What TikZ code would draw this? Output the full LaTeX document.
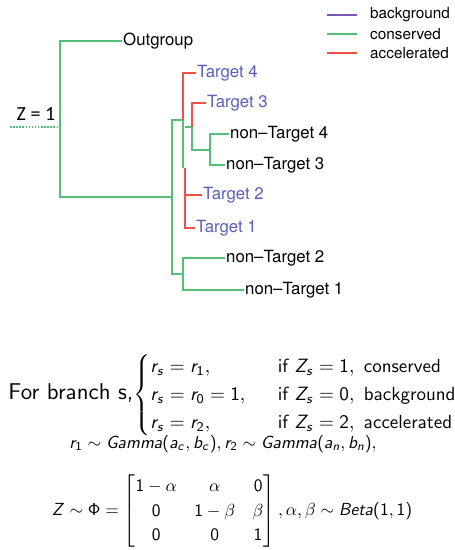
\documentclass[tikz,border=0pt]{standalone}
\usepackage{amsmath}
\usepackage{amssymb}
\usepackage[no-math]{fontspec}
\newfontfamily\helv{TeX Gyre Heros}
\newfontfamily\calib{Carlito}
\usepackage{tikz}

\definecolor{bgcol}{RGB}{125,85,185}
\definecolor{conscol}{RGB}{85,190,120}
\definecolor{acccol}{RGB}{240,80,70}
\definecolor{tgtcol}{RGB}{90,95,185}

% sans serif math letters, as on the slides
\SetSymbolFont{operators}{normal}{OT1}{cmss}{m}{n}
\DeclareSymbolFont{sfletters}{OT1}{cmss}{m}{sl}
\newcommand{\sfletter}[1]{\DeclareMathSymbol{#1}{\mathalpha}{sfletters}{`#1}}
\sfletter{r}\sfletter{s}\sfletter{Z}\sfletter{G}\sfletter{a}\sfletter{m}
\sfletter{b}\sfletter{c}\sfletter{n}\sfletter{B}\sfletter{e}\sfletter{t}
\font\sften=cmss10 at 9.9pt
\font\sfbig=cmss10 at 11.9pt

\begin{document}
\begin{tikzpicture}[x=1pt, y=-1pt,
		branch/.style={line width=1.3pt},
		cons/.style={branch, conscol},
		acc/.style={branch, acccol},
		leaf/.style={font=\helv\fontsize{16.8}{20}\selectfont, anchor=west, inner sep=1pt, text height=12pt, text depth=3.5pt},
		tgt/.style={leaf, text=tgtcol},
		legtxt/.style={font=\helv\fontsize{15.3}{18}\selectfont, anchor=west, inner sep=0pt},
		eqn/.style={font=\sffamily\fontsize{10}{12.15}\selectfont, inner sep=0pt, scale=1.92, transform shape}]
	\useasboundingbox (0,0) rectangle (455,550);
	
	% legend
	\foreach \y/\c/\t in {15/bgcol/background, 34/conscol/conserved, 53/acccol/accelerated} {
		\node[legtxt] (leg-\t) at (370,\y) {\t};
		\draw[\c, branch] ([xshift=-43pt]leg-\t.west) -- ([xshift=-13pt]leg-\t.west);
	}
	
	% leaves
	\node[leaf] (out) at (122,41) {Outgroup};
	\node[tgt] (t4) at (196,73) {Target 4};
	\node[tgt] (t3) at (206,103) {Target 3};
	\node[leaf] (nt4) at (229,134) {non–Target 4};
	\node[leaf] (nt3) at (225,165) {non–Target 3};
	\node[tgt] (t2) at (202,195) {Target 2};
	\node[tgt] (t1) at (195,228) {Target 1};
	\node[leaf] (nt2) at (225,258) {non–Target 2};
	\node[leaf] (nt1) at (244,290) {non–Target 1};
	
	% inner nodes
	\coordinate (z) at (60,127);
	\coordinate (zin) at (10,127);
	\coordinate (a) at (172,197);
	\coordinate (b) at (183,120);
	\coordinate (c) at (183,274);
	\coordinate (d) at (192,127);
	\coordinate (e) at (210,150);
	\coordinate (f) at (185,168);
	
	% root
	\node[font=\calib\fontsize{20}{24}\selectfont, inner sep=0pt] (zlab) at (36,114) {Z = 1};
	\draw[conscol, line width=1.6pt, dash pattern=on 1.5pt off 1.6pt] (zin) -- (z);
	\draw[cons] (out.west) -| (z) |- (a);
	
	% ingroup
	\draw[cons] (b) -| (a) |- (c);
	\draw[cons] (nt2.west) -| (c) |- (nt1.west);
	\draw[acc] (t4.west) -| (b);
	\draw[cons] (b) -- (b |- f);
	\draw[cons] (d) -- (f |- d);
	\draw[acc] (t3.west) -| (d);
	\draw[cons] (d) |- (e);
	\draw[cons] (nt4.west) -| (e) |- (nt3.west);
	\draw[acc] (f) |- (t1.west);
	\draw[acc] (t2.west) -- (f |- t2.west);
	
	% model
	\node[eqn, anchor=west] (cases) at (8,395) {{\sfbig For branch s,}$\begin{cases}
			r_s = r_1, & \hspace{7pt}\text{\sften if }Z_s = 1,\ \text{\sften conserved}\\
			r_s = r_0 = 1, & \hspace{7pt}\text{\sften if }Z_s = 0,\ \text{\sften background}\\
			r_s = r_2, & \hspace{7pt}\text{\sften if }Z_s = 2,\ \text{\sften accelerated}
		\end{cases}$};
	\node[eqn, scale=0.91] (gam) at (223,444) {$r_1 \sim Gamma(a_c, b_c), r_2 \sim Gamma(a_n, b_n),$};
	\node[eqn, scale=0.91, font=\fontsize{10}{14.3}\selectfont] (phi) at (232,511) {$Z \sim \Phi = \begin{bmatrix}
			1-\alpha & \alpha & 0\\
			0 & 1-\beta & \beta\\
			0 & 0 & 1
		\end{bmatrix}, \alpha, \beta \sim Beta(1,1)$};
\end{tikzpicture}
\end{document}
